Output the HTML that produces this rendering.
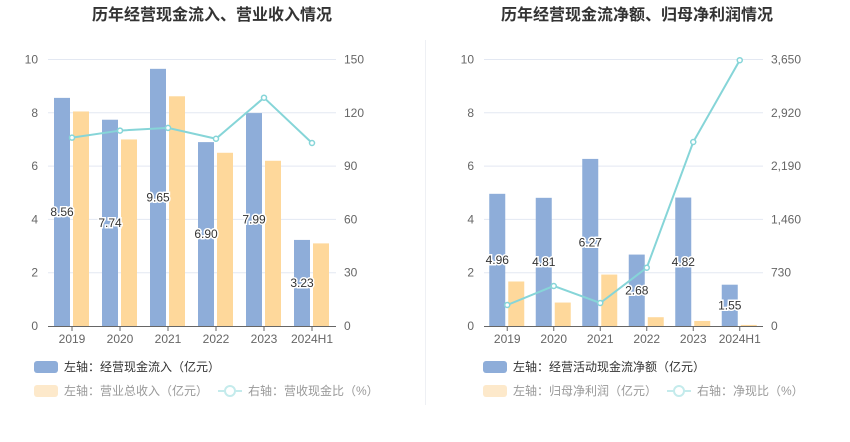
<!DOCTYPE html>
<html><head><meta charset="utf-8"><style>
body{margin:0;background:#fff;width:850px;height:437px;overflow:hidden;font-family:"Liberation Sans","Noto Sans CJK SC",sans-serif}
svg text{font-family:"Liberation Sans","Noto Sans CJK SC",sans-serif}
</style></head><body>
<svg id="s" width="850" height="437">
<line x1="425.5" y1="40" x2="425.5" y2="405" stroke="#eef0f4"/>
</svg>
<script>
const categories=["2019","2020","2021","2022","2023","2024H1"];
const leftBlue=[8.56,7.74,9.65,6.90,7.99,3.23];
const leftYellow=[8.05,7.0,8.62,6.5,6.2,3.1];
const leftLine=[106,110,111.5,105.4,128.5,103];
const leftTicksL=["0","2","4","6","8","10"];
const leftTicksR=["0","30","60","90","120","150"];
const rightBlue=[4.96,4.81,6.27,2.68,4.82,1.55];
const rightYellow=[1.67,0.88,1.93,0.33,0.19,0.04];
const rightLine=[288,548,315,798,2520,3640];
const rightTicksL=["0","2","4","6","8","10"];
const rightTicksR=["0","730","1,460","2,190","2,920","3,650"];
const NS="http://www.w3.org/2000/svg";
const svg=document.getElementById('s');
function mk(t,a,txt){const e=document.createElementNS(NS,t);for(const k in a)e.setAttribute(k,a[k]);if(txt!=null)e.textContent=txt;svg.appendChild(e);return e;}
function chart(o){
 const top=59.5,bot=326,h=bot-top;
 const yL=v=>bot-v/o.maxL*h, yR=v=>bot-v/o.maxR*h;
 const band=(o.x1-o.x0)/categories.length;
 const cx=i=>o.x0+band*(i+0.5);
 let t=mk('text',{x:o.tx,y:20,'text-anchor':'middle','font-size':16,'font-weight':'bold',fill:'#333'},o.title);
 
 for(let i=0;i<6;i++){const y=bot-h*i/5;
  if(i>0){let g=mk('line',{x1:o.x0,x2:o.x1,y1:y,y2:y,stroke:'#e3e8f2'});}
  let a=mk('text',{x:o.x0-10,y:y+4,'text-anchor':'end','font-size':12,fill:'#666'},o.tl[i]);
  let b=mk('text',{x:o.x1+8,y:y+4,'font-size':12,fill:'#666'},o.tr[i]);
 }
 categories.forEach((c,i)=>{
  let b=mk('rect',{x:cx(i)-18,y:yL(o.blue[i]),width:16,height:bot-yL(o.blue[i]),fill:'#8eadd9'});
  
  let y=mk('rect',{x:cx(i)+1,y:yL(o.yel[i]),width:16,height:bot-yL(o.yel[i]),fill:'#fed89b'});
  
  let k=mk('text',{x:cx(i),y:bot+17,'text-anchor':'middle','font-size':12,fill:'#666'},c);
  
  mk('line',{x1:cx(i),x2:cx(i),y1:bot,y2:bot+5,stroke:'#666'});
 });
 let ax=mk('line',{x1:o.x0,x2:o.x1,y1:bot+.5,y2:bot+.5,stroke:'#666'});
 let pts=o.line.map((v,i)=>cx(i)+','+yR(v)).join(' ');
 let pl=mk('polyline',{points:pts,fill:'none',stroke:'#86d5d8','stroke-width':2});
 o.line.forEach((v,i)=>{let c=mk('circle',{cx:cx(i),cy:yR(v),r:2.5,fill:'#fff',stroke:'#86d5d8','stroke-width':1.5});});
 categories.forEach((c,i)=>{
  let l=mk('text',{x:cx(i)-10,y:(yL(o.blue[i])+bot)/2+4,'text-anchor':'middle','font-size':12,fill:'#333',stroke:'#fff','stroke-width':3,'paint-order':'stroke'},o.blue[i].toFixed(2));
  
 });
 let r1=mk('rect',{x:o.lx,y:361,width:24,height:12,rx:3,fill:'#8eadd9'});
 let t1=mk('text',{x:o.lx+30,y:371,'font-size':12,fill:'#333'},o.lg1);
 let r2=mk('rect',{x:o.lx,y:385,width:24,height:12,rx:3,fill:'#fde9cb'});
 let t2=mk('text',{x:o.lx+30,y:395,'font-size':12,fill:'#999'},o.lg2);
 mk('line',{x1:o.ix,x2:o.ix+24,y1:391,y2:391,stroke:'#c4ebec','stroke-width':2});
 let lc=mk('circle',{cx:o.ix+12,cy:391,r:5,fill:'#fff',stroke:'#c4ebec','stroke-width':2});
 let t3=mk('text',{x:o.ix+30,y:395,'font-size':12,fill:'#999'},o.lg3);
}
chart({p:'left',title:'历年经营现金流入、营业收入情况',tx:212,x0:48,x1:336,maxL:10,maxR:150,tl:leftTicksL,tr:leftTicksR,blue:leftBlue,yel:leftYellow,line:leftLine,lx:34,ix:218,lg1:'左轴：经营现金流入（亿元）',lg2:'左轴：营业总收入（亿元）',lg3:'右轴：营收现金比（%）'});
chart({p:'right',title:'历年经营现金流净额、归母净利润情况',tx:637,x0:484,x1:763,maxL:10,maxR:3650,tl:rightTicksL,tr:rightTicksR,blue:rightBlue,yel:rightYellow,line:rightLine,lx:483,ix:667,lg1:'左轴：经营活动现金流净额（亿元）',lg2:'左轴：归母净利润（亿元）',lg3:'右轴：净现比（%）'});
</script>
</body></html>
